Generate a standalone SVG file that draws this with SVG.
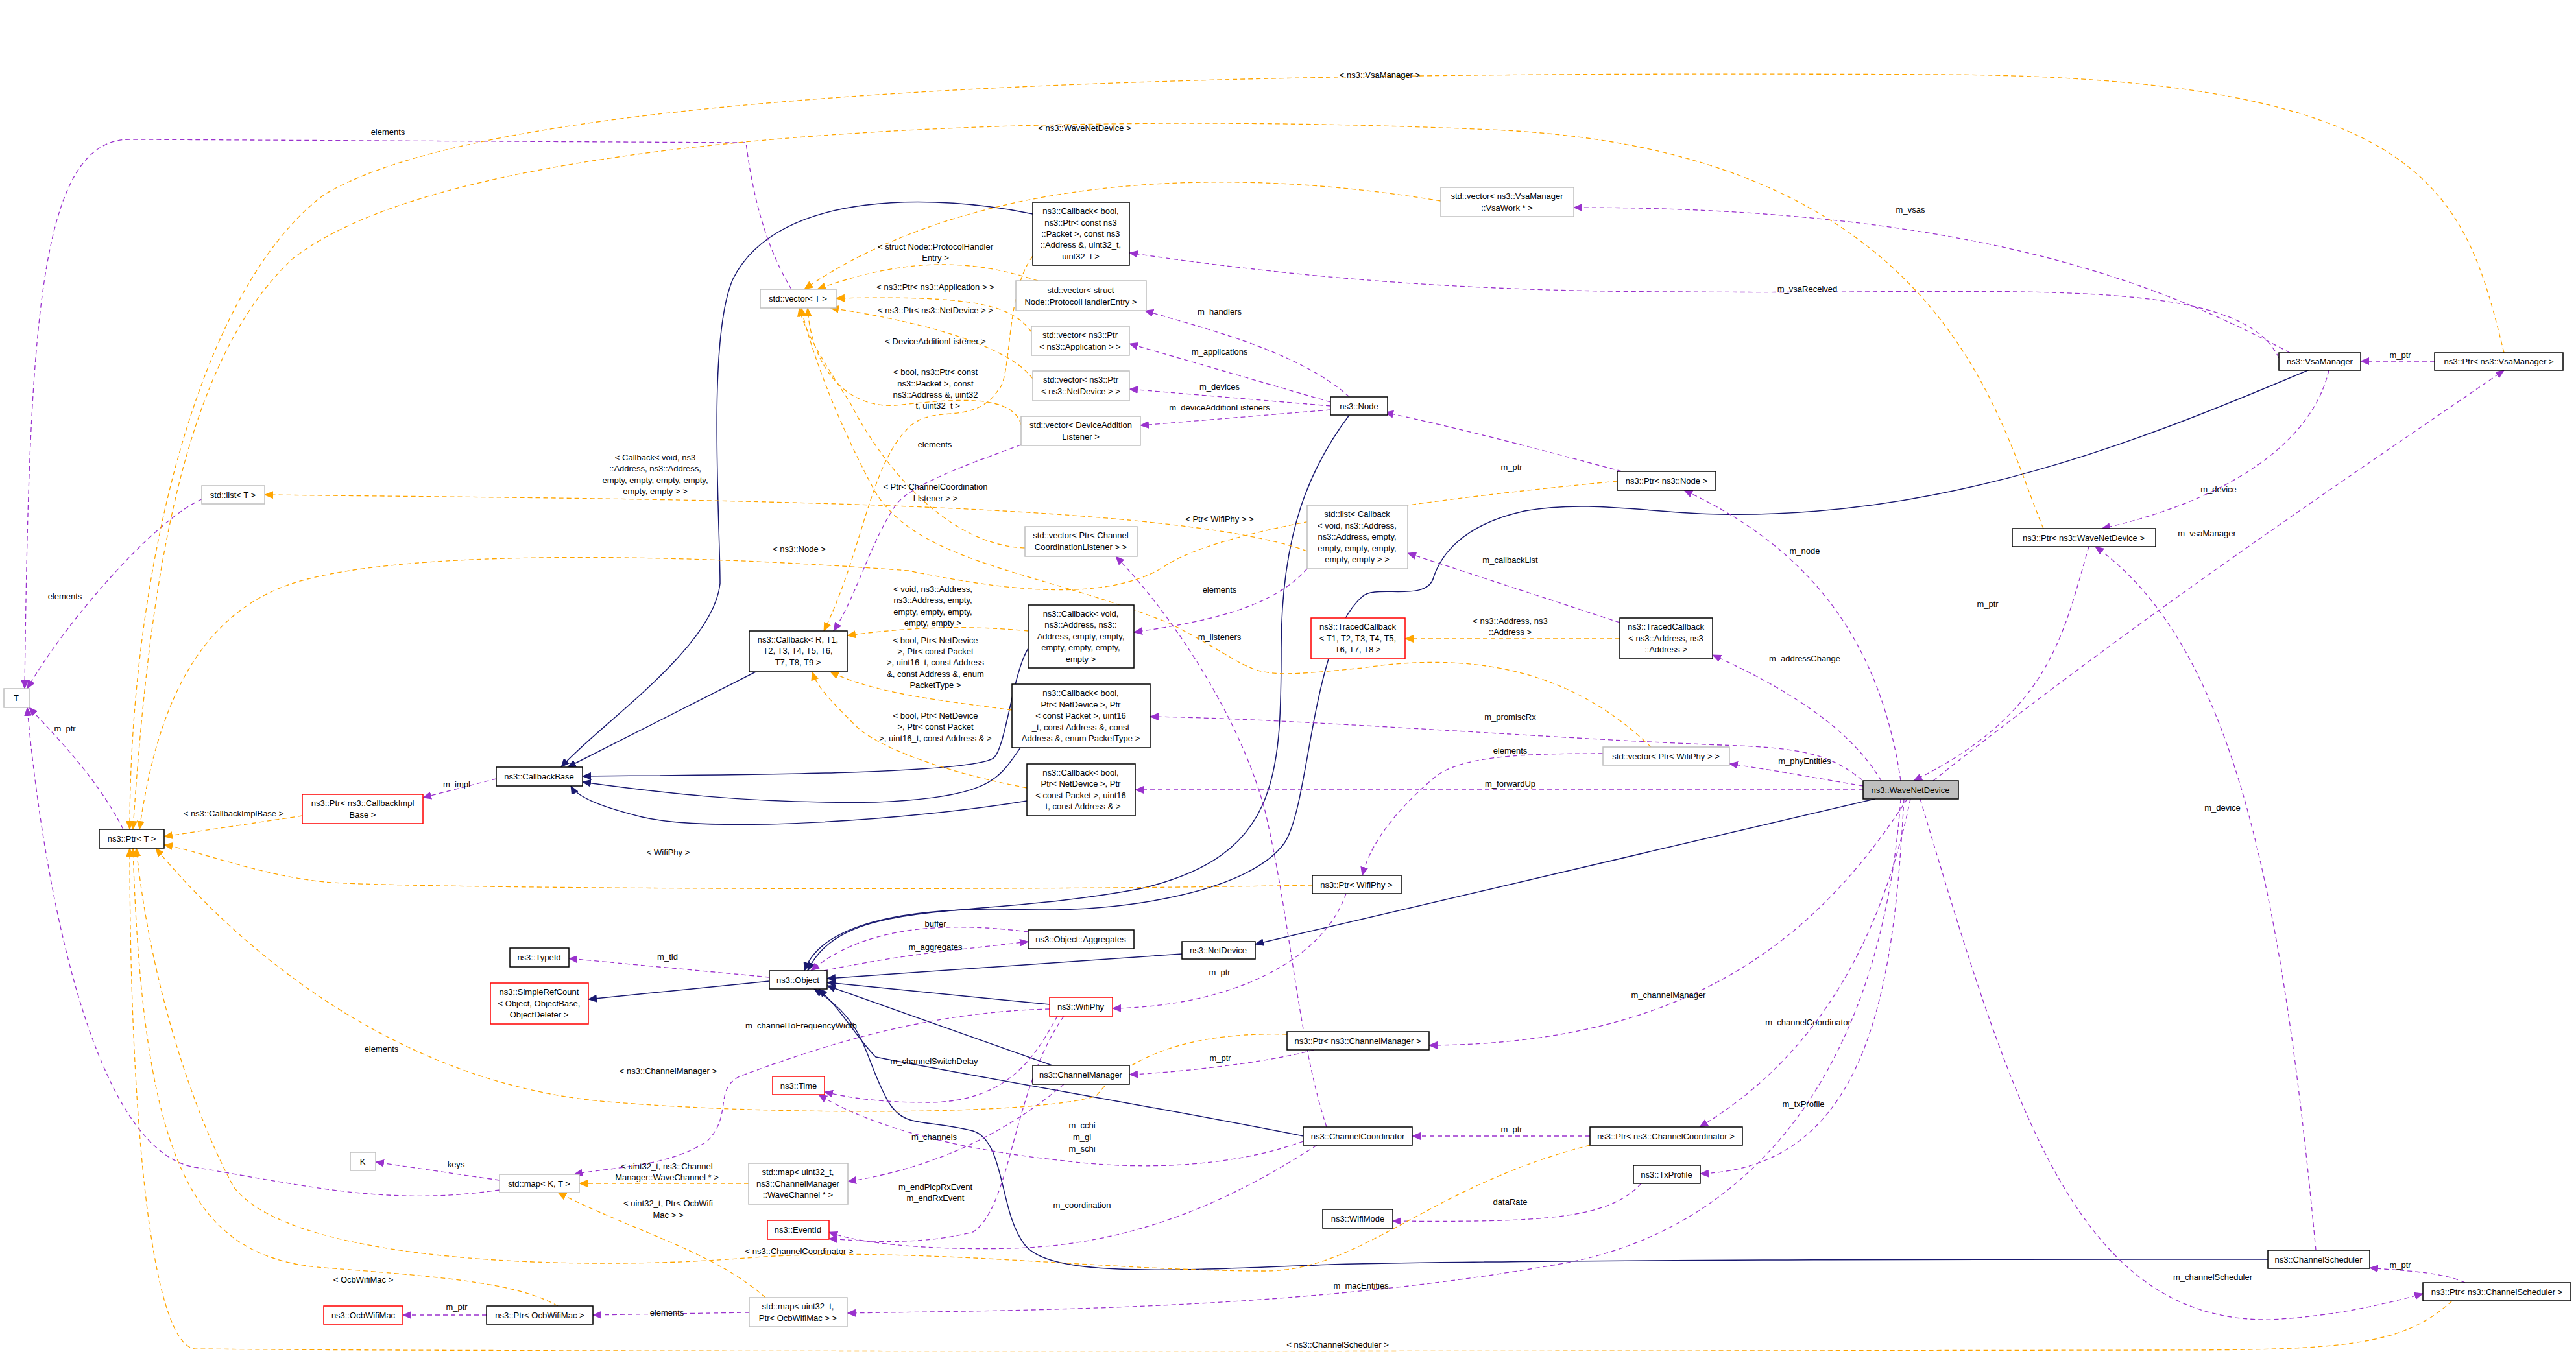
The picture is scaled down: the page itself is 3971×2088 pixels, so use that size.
<svg xmlns="http://www.w3.org/2000/svg" width="3971" height="2088" viewBox="0 0 3971 2088">
<defs>
<marker id="ab" markerWidth="14" markerHeight="12" refX="13" refY="6" orient="auto" markerUnits="userSpaceOnUse"><path d="M0,0 L14,6 L0,12 z" fill="#191970"/></marker>
<marker id="ap" markerWidth="14" markerHeight="12" refX="13" refY="6" orient="auto" markerUnits="userSpaceOnUse"><path d="M0,0 L14,6 L0,12 z" fill="#9a32cd"/></marker>
<marker id="ao" markerWidth="14" markerHeight="12" refX="13" refY="6" orient="auto" markerUnits="userSpaceOnUse"><path d="M0,0 L14,6 L0,12 z" fill="#ffa500"/></marker>
</defs>
<style>
text{font-family:"Liberation Sans",Arial,sans-serif;font-size:13px;fill:#000;text-anchor:middle}
.n rect{fill:#fff;stroke:#000;stroke-width:1.5}
.g rect{fill:#fff;stroke:#bfbfbf;stroke-width:1.5}
.r rect{fill:#fff;stroke:#ff0000;stroke-width:1.5}
.f rect{fill:#bfbfbf;stroke:#000;stroke-width:1.5}
.i{fill:none;stroke:#191970;stroke-width:1.5;marker-end:url(#ab)}
.u{fill:none;stroke:#9a32cd;stroke-width:1.3;stroke-dasharray:7,5;marker-end:url(#ap)}
.t{fill:none;stroke:#ffa500;stroke-width:1.3;stroke-dasharray:7,5;marker-end:url(#ao)}
</style>
<rect width="3971" height="2088" fill="#fff"/>
<g id="connectors">
<path class="i" d="M1592,330 C1450,300 1200,290 1130,430 C1090,520 1110,800 1110,900 C1100,1000 920,1120 865,1183"/>
<path class="i" d="M1165,1036 L875,1183"/>
<path class="i" d="M1585,1000 C1560,1040 1550,1160 1530,1170 C1480,1195 1100,1195 898,1197"/>
<path class="i" d="M1573,1153 C1540,1200 1530,1230 1350,1237 C1150,1240 1000,1220 898,1206"/>
<path class="i" d="M1583,1235 C1400,1265 1100,1285 990,1260 C930,1245 890,1230 880,1212"/>
<path class="i" d="M2080,640 C2020,720 1975,820 1975,1000 C1975,1200 1970,1320 1760,1370 C1500,1420 1300,1380 1245,1497"/>
<path class="i" d="M3560,570 C3300,680 3000,800 2650,793 C2550,792 2450,770 2350,788 C2250,810 2220,860 2210,890 C2200,930 2120,900 2100,920 C2020,990 2020,1240 1980,1300 C1930,1370 1750,1410 1550,1402 C1350,1400 1260,1440 1240,1497"/>
<path class="i" d="M2890,1232 L1935,1456"/>
<path class="i" d="M1822,1471 L1275,1509"/>
<path class="i" d="M1618,1549 L1275,1515"/>
<path class="i" d="M1622,1643 L1275,1520"/>
<path class="i" d="M2009,1752 C1800,1710 1500,1660 1350,1630 C1320,1600 1300,1560 1262,1525"/>
<path class="i" d="M3496,1942 C3000,1942 2400,1942 2050,1950 C1800,1960 1620,1970 1580,1920 C1540,1870 1550,1760 1500,1744 C1420,1725 1395,1740 1370,1700 C1330,1630 1340,1580 1255,1525"/>
<path class="i" d="M1186,1513 L907,1541"/>
<path class="u" d="M1220,446 C1180,380 1160,300 1150,220 L200,215 C60,215 45,500 38,1062"/>
<path class="u" d="M311,770 C240,800 100,960 42,1062"/>
<path class="u" d="M190,1279 C150,1200 90,1140 45,1091"/>
<path class="u" d="M770,1835 C600,1860 480,1830 300,1800 C130,1770 60,1300 42,1091"/>
<path class="u" d="M770,1820 L579,1792"/>
<path class="u" d="M765,1201 L652,1230"/>
<path class="u" d="M1186,1507 L877,1478"/>
<path class="u" d="M1585,1437 C1450,1420 1330,1430 1250,1497"/>
<path class="u" d="M1270,1497 C1400,1470 1480,1465 1585,1452"/>
<path class="u" d="M2075,1378 C2040,1480 1900,1552 1715,1555"/>
<path class="u" d="M1618,1556 C1450,1560 1300,1600 1140,1660 C1100,1680 1130,1720 1090,1760 C1030,1800 940,1800 885,1811"/>
<path class="u" d="M1630,1567 C1600,1620 1560,1700 1430,1700 C1340,1700 1300,1690 1271,1684"/>
<path class="u" d="M1640,1567 C1560,1680 1560,1860 1500,1900 C1420,1920 1340,1915 1278,1910"/>
<path class="u" d="M1640,1672 C1560,1740 1450,1800 1307,1822"/>
<path class="u" d="M2009,1760 C1900,1800 1760,1805 1640,1790 C1450,1770 1330,1730 1262,1688"/>
<path class="u" d="M2030,1766 C1900,1850 1750,1920 1560,1925 C1450,1928 1330,1920 1278,1900"/>
<path class="u" d="M2045,1738 C2000,1600 1990,1420 1950,1250 C1910,1100 1800,940 1720,858"/>
<path class="u" d="M2025,1619 C1950,1640 1800,1655 1741,1657"/>
<path class="u" d="M2451,1752 L2177,1752"/>
<path class="u" d="M2530,1825 C2480,1880 2380,1885 2147,1883"/>
<path class="u" d="M750,2028 L621,2028"/>
<path class="u" d="M1155,2024 L914,2028"/>
<path class="u" d="M2080,612 C2000,540 1850,505 1765,479"/>
<path class="u" d="M2051,620 L1741,530"/>
<path class="u" d="M2051,626 L1741,600"/>
<path class="u" d="M2051,632 L1758,656"/>
<path class="u" d="M1574,686 C1480,720 1400,750 1380,780 C1340,840 1320,920 1285,973"/>
<path class="u" d="M2015,877 C1960,940 1850,960 1748,975"/>
<path class="u" d="M2497,960 L2170,853"/>
<path class="u" d="M2930,1204 C2900,1000 2800,850 2596,756"/>
<path class="u" d="M2900,1204 C2850,1120 2750,1060 2640,1010"/>
<path class="u" d="M2880,1210 C2830,1170 2800,1155 2680,1150 C2400,1140 2000,1108 1773,1105"/>
<path class="u" d="M2872,1212 C2800,1200 2750,1190 2666,1178"/>
<path class="u" d="M2872,1218 L1750,1218"/>
<path class="u" d="M2471,1162 C2350,1162 2250,1165 2210,1200 C2140,1260 2110,1310 2100,1350"/>
<path class="u" d="M3220,843 C3180,980 3160,1100 2950,1204"/>
<path class="u" d="M2980,1204 C3300,950 3600,750 3860,571"/>
<path class="u" d="M2940,1232 C2800,1450 2600,1610 2203,1612"/>
<path class="u" d="M2945,1232 C2900,1450 2800,1630 2620,1738"/>
<path class="u" d="M2935,1232 C2920,1500 2890,1800 2621,1810"/>
<path class="u" d="M2930,1232 C2900,1650 2700,1900 2400,1950 C2000,2020 1600,2020 1306,2025"/>
<path class="u" d="M2960,1232 C3100,1700 3200,2040 3500,2035 C3600,2030 3680,2010 3735,1995"/>
<path class="u" d="M3800,1978 C3760,1960 3700,1960 3653,1955"/>
<path class="u" d="M3570,1928 C3520,1400 3450,1000 3230,843"/>
<path class="u" d="M3590,571 C3560,700 3400,780 3240,815"/>
<path class="u" d="M3530,544 C3300,420 3000,320 2426,320"/>
<path class="u" d="M3513,552 C3450,420 3100,455 2600,450 C2200,450 1950,420 1741,390"/>
<path class="u" d="M3753,557 L3639,557"/>
<path class="u" d="M2500,727 C2400,700 2250,660 2135,636"/>
<path class="t" d="M2221,310 C1800,240 1450,300 1240,446"/>
<path class="t" d="M3150,815 C3080,650 3000,230 2300,200 C1600,170 700,200 450,400 C280,560 230,900 205,1279"/>
<path class="t" d="M3860,544 C3800,300 3750,120 3000,115 C2000,110 800,120 500,300 C300,450 200,900 200,1279"/>
<path class="t" d="M1600,433 C1500,400 1400,395 1260,446"/>
<path class="t" d="M1590,512 C1560,470 1500,455 1289,460"/>
<path class="t" d="M1592,584 C1560,540 1450,500 1280,475"/>
<path class="t" d="M1574,655 C1560,600 1440,620 1380,625 C1300,630 1250,560 1245,475"/>
<path class="t" d="M1580,845 C1450,840 1350,700 1310,620 C1270,560 1240,510 1232,475"/>
<path class="t" d="M2545,1152 C2440,1050 2300,1000 2100,1030 C1900,1050 1960,1040 1800,960 C1600,880 1420,870 1350,760 C1290,650 1250,540 1235,475"/>
<path class="t" d="M1592,395 C1550,450 1560,580 1540,600 C1500,660 1440,620 1400,660 C1340,720 1330,850 1270,973"/>
<path class="t" d="M1585,973 C1500,965 1420,965 1306,980"/>
<path class="t" d="M1560,1095 C1450,1080 1350,1070 1280,1036"/>
<path class="t" d="M1583,1215 C1450,1190 1350,1150 1320,1120 C1280,1080 1260,1060 1252,1036"/>
<path class="t" d="M2015,850 C1800,770 1000,770 408,763"/>
<path class="t" d="M2497,985 L2166,985"/>
<path class="t" d="M2493,742 C2200,770 1900,810 1800,870 C1700,940 1500,900 1400,880 C1000,850 600,850 450,900 C300,950 240,1100 215,1279"/>
<path class="t" d="M2023,1365 C1500,1375 600,1370 500,1360 C400,1350 300,1310 253,1303"/>
<path class="t" d="M466,1258 L253,1290"/>
<path class="t" d="M1984,1595 C1800,1590 1720,1650 1690,1690 C1600,1720 1200,1720 950,1700 C650,1680 400,1500 240,1308"/>
<path class="t" d="M2451,1766 C2200,1830 2100,1960 1950,1960 C1700,1960 1400,1920 1150,1940 C900,1960 450,1950 360,1830 C290,1700 230,1500 210,1308"/>
<path class="t" d="M3780,2006 C3700,2080 3600,2082 3300,2082 C2200,2084 800,2085 300,2080 C230,2070 200,1700 200,1308"/>
<path class="t" d="M860,2014 C800,1980 700,1970 500,1955 C300,1940 220,1800 205,1308"/>
<path class="t" d="M1154,1825 L893,1825"/>
<path class="t" d="M1180,2001 C1100,1930 980,1900 860,1839"/>
</g>
<g id="edge-labels">
<text x="598" y="208">elements</text>
<text x="100" y="924">elements</text>
<text x="100" y="1128">m_ptr</text>
<text x="588" y="1622">elements</text>
<text x="703" y="1800">keys</text>
<text x="704" y="1214">m_impl</text>
<text x="1029" y="1480">m_tid</text>
<text x="1442" y="1429">buffer</text>
<text x="1442" y="1465">m_aggregates</text>
<text x="1880" y="1504">m_ptr</text>
<text x="1235" y="1586">m_channelToFrequencyWidth</text>
<text x="1440" y="1641">m_channelSwitchDelay</text>
<text x="1442" y="1835">m_endPlcpRxEvent</text>
<text x="1442" y="1852">m_endRxEvent</text>
<text x="1440" y="1758">m_channels</text>
<text x="1668" y="1740">m_cchi</text>
<text x="1668" y="1758">m_gi</text>
<text x="1668" y="1776">m_schi</text>
<text x="1668" y="1863">m_coordination</text>
<text x="1880" y="987">m_listeners</text>
<text x="2330" y="1746">m_ptr</text>
<text x="2328" y="1858">dataRate</text>
<text x="1881" y="1636">m_ptr</text>
<text x="2572" y="1539">m_channelManager</text>
<text x="2787" y="1581">m_channelCoordinator</text>
<text x="2780" y="1707">m_txProfile</text>
<text x="2098" y="1987">m_macEntities</text>
<text x="3411" y="1974">m_channelScheduler</text>
<text x="3700" y="1955">m_ptr</text>
<text x="3426" y="1250">m_device</text>
<text x="3420" y="759">m_device</text>
<text x="704" y="2020">m_ptr</text>
<text x="1028" y="2029">elements</text>
<text x="1880" y="485">m_handlers</text>
<text x="1880" y="547">m_applications</text>
<text x="1880" y="601">m_devices</text>
<text x="1880" y="633">m_deviceAdditionListeners</text>
<text x="1441" y="690">elements</text>
<text x="1880" y="914">elements</text>
<text x="2328" y="868">m_callbackList</text>
<text x="2782" y="854">m_node</text>
<text x="2782" y="1020">m_addressChange</text>
<text x="2328" y="1110">m_promiscRx</text>
<text x="2782" y="1178">m_phyEntities</text>
<text x="2328" y="1213">m_forwardUp</text>
<text x="2328" y="1162">elements</text>
<text x="3064" y="936">m_ptr</text>
<text x="3402" y="827">m_vsaManager</text>
<text x="2945" y="328">m_vsas</text>
<text x="2786" y="450">m_vsaReceived</text>
<text x="3700" y="552">m_ptr</text>
<text x="2330" y="725">m_ptr</text>
<text x="1672" y="322">&lt; ns3::VsaManager::</text>
<text x="1672" y="340">VsaWork * &gt;</text>
<text x="1672" y="202">&lt; ns3::WaveNetDevice &gt;</text>
<text x="2127" y="120">&lt; ns3::VsaManager &gt;</text>
<text x="1442" y="385">&lt; struct Node::ProtocolHandler</text>
<text x="1442" y="402">Entry &gt;</text>
<text x="1442" y="447">&lt; ns3::Ptr&lt; ns3::Application &gt; &gt;</text>
<text x="1442" y="483">&lt; ns3::Ptr&lt; ns3::NetDevice &gt; &gt;</text>
<text x="1442" y="531">&lt; DeviceAdditionListener &gt;</text>
<text x="1442" y="578">&lt; bool, ns3::Ptr&lt; const</text>
<text x="1442" y="596">ns3::Packet &gt;, const</text>
<text x="1442" y="613">ns3::Address &amp;, uint32</text>
<text x="1442" y="630">_t, uint32_t &gt;</text>
<text x="1442" y="755">&lt; Ptr&lt; ChannelCoordination</text>
<text x="1442" y="773">Listener &gt; &gt;</text>
<text x="1880" y="805">&lt; Ptr&lt; WifiPhy &gt; &gt;</text>
<text x="1438" y="913">&lt; void, ns3::Address,</text>
<text x="1438" y="930">ns3::Address, empty,</text>
<text x="1438" y="948">empty, empty, empty,</text>
<text x="1438" y="965">empty, empty &gt;</text>
<text x="1442" y="992">&lt; bool, Ptr&lt; NetDevice</text>
<text x="1442" y="1009">&gt;, Ptr&lt; const Packet</text>
<text x="1442" y="1026">&gt;, uint16_t, const Address</text>
<text x="1442" y="1044">&amp;, const Address &amp;, enum</text>
<text x="1442" y="1061">PacketType &gt;</text>
<text x="1442" y="1108">&lt; bool, Ptr&lt; NetDevice</text>
<text x="1442" y="1125">&gt;, Ptr&lt; const Packet</text>
<text x="1442" y="1143">&gt;, uint16_t, const Address &amp; &gt;</text>
<text x="1010" y="710">&lt; Callback&lt; void, ns3</text>
<text x="1010" y="727">::Address, ns3::Address,</text>
<text x="1010" y="745">empty, empty, empty, empty,</text>
<text x="1010" y="762">empty, empty &gt; &gt;</text>
<text x="2328" y="962">&lt; ns3::Address, ns3</text>
<text x="2328" y="979">::Address &gt;</text>
<text x="1232" y="851">&lt; ns3::Node &gt;</text>
<text x="1030" y="1319">&lt; WifiPhy &gt;</text>
<text x="360" y="1259">&lt; ns3::CallbackImplBase &gt;</text>
<text x="1030" y="1656">&lt; ns3::ChannelManager &gt;</text>
<text x="1232" y="1934">&lt; ns3::ChannelCoordinator &gt;</text>
<text x="2062" y="2078">&lt; ns3::ChannelScheduler &gt;</text>
<text x="560" y="1978">&lt; OcbWifiMac &gt;</text>
<text x="1028" y="1803">&lt; uint32_t, ns3::Channel</text>
<text x="1028" y="1820">Manager::WaveChannel * &gt;</text>
<text x="1030" y="1860">&lt; uint32_t, Ptr&lt; OcbWifi</text>
<text x="1030" y="1878">Mac &gt; &gt;</text>
</g>
<g id="n_T" class="g"><rect x="6" y="1062" width="39" height="29"/><text x="25" y="1081">T</text></g>
<g id="n_listT" class="g"><rect x="311" y="749" width="97" height="28"/><text x="359" y="768">std::list&lt; T &gt;</text></g>
<g id="n_PtrT" class="n"><rect x="153" y="1279" width="100" height="29"/><text x="203" y="1298">ns3::Ptr&lt; T &gt;</text></g>
<g id="n_PtrCIB" class="r"><rect x="466" y="1225" width="186" height="45"/><text x="559" y="1243">ns3::Ptr&lt; ns3::CallbackImpl</text><text x="559" y="1261">Base &gt;</text></g>
<g id="n_CB" class="n"><rect x="765" y="1183" width="133" height="29"/><text x="831" y="1202">ns3::CallbackBase</text></g>
<g id="n_vecT" class="g"><rect x="1172" y="446" width="117" height="29"/><text x="1230" y="465">std::vector&lt; T &gt;</text></g>
<g id="n_cbR" class="n"><rect x="1155" y="973" width="151" height="63"/><text x="1230" y="991">ns3::Callback&lt; R, T1,</text><text x="1230" y="1008">T2, T3, T4, T5, T6,</text><text x="1230" y="1026">T7, T8, T9 &gt;</text></g>
<g id="n_cbVsa" class="n"><rect x="1592" y="312" width="149" height="97"/><text x="1666" y="330">ns3::Callback&lt; bool,</text><text x="1666" y="348">ns3::Ptr&lt; const ns3</text><text x="1666" y="365">::Packet &gt;, const ns3</text><text x="1666" y="382">::Address &amp;, uint32_t,</text><text x="1666" y="400">uint32_t &gt;</text></g>
<g id="n_vecPHE" class="g"><rect x="1566" y="433" width="201" height="46"/><text x="1666" y="452">std::vector&lt; struct</text><text x="1666" y="470">Node::ProtocolHandlerEntry &gt;</text></g>
<g id="n_vecApp" class="g"><rect x="1590" y="503" width="151" height="45"/><text x="1665" y="521">std::vector&lt; ns3::Ptr</text><text x="1665" y="539">&lt; ns3::Application &gt; &gt;</text></g>
<g id="n_vecNd" class="g"><rect x="1592" y="572" width="149" height="46"/><text x="1666" y="590">std::vector&lt; ns3::Ptr</text><text x="1666" y="608">&lt; ns3::NetDevice &gt; &gt;</text></g>
<g id="n_vecDAL" class="g"><rect x="1574" y="642" width="184" height="45"/><text x="1666" y="660">std::vector&lt; DeviceAddition</text><text x="1666" y="678">Listener &gt;</text></g>
<g id="n_vecCCL" class="g"><rect x="1580" y="812" width="173" height="46"/><text x="1666" y="830">std::vector&lt; Ptr&lt; Channel</text><text x="1666" y="848">CoordinationListener &gt; &gt;</text></g>
<g id="n_cbVoid" class="n"><rect x="1585" y="933" width="163" height="97"/><text x="1666" y="951">ns3::Callback&lt; void,</text><text x="1666" y="968">ns3::Address, ns3::</text><text x="1666" y="986">Address, empty, empty,</text><text x="1666" y="1003">empty, empty, empty,</text><text x="1666" y="1021">empty &gt;</text></g>
<g id="n_cbPromisc" class="n"><rect x="1560" y="1055" width="213" height="98"/><text x="1666" y="1073">ns3::Callback&lt; bool,</text><text x="1666" y="1091">Ptr&lt; NetDevice &gt;, Ptr</text><text x="1666" y="1108">&lt; const Packet &gt;, uint16</text><text x="1666" y="1126">_t, const Address &amp;, const</text><text x="1666" y="1143">Address &amp;, enum PacketType &gt;</text></g>
<g id="n_cbFwd" class="n"><rect x="1583" y="1178" width="167" height="80"/><text x="1666" y="1196">ns3::Callback&lt; bool,</text><text x="1666" y="1213">Ptr&lt; NetDevice &gt;, Ptr</text><text x="1666" y="1231">&lt; const Packet &gt;, uint16</text><text x="1666" y="1248">_t, const Address &amp; &gt;</text></g>
<g id="n_vsaWork" class="g"><rect x="2221" y="289" width="205" height="45"/><text x="2323" y="307">std::vector&lt; ns3::VsaManager</text><text x="2323" y="325">::VsaWork * &gt;</text></g>
<g id="n_Node" class="n"><rect x="2051" y="612" width="88" height="28"/><text x="2095" y="631">ns3::Node</text></g>
<g id="n_PtrNode" class="n"><rect x="2493" y="727" width="152" height="29"/><text x="2569" y="746">ns3::Ptr&lt; ns3::Node &gt;</text></g>
<g id="n_listCb" class="g"><rect x="2015" y="779" width="155" height="98"/><text x="2092" y="797">std::list&lt; Callback</text><text x="2092" y="815">&lt; void, ns3::Address,</text><text x="2092" y="832">ns3::Address, empty,</text><text x="2092" y="850">empty, empty, empty,</text><text x="2092" y="867">empty, empty &gt; &gt;</text></g>
<g id="n_TC" class="r"><rect x="2021" y="953" width="145" height="63"/><text x="2093" y="971">ns3::TracedCallback</text><text x="2093" y="989">&lt; T1, T2, T3, T4, T5,</text><text x="2093" y="1006">T6, T7, T8 &gt;</text></g>
<g id="n_TCAddr" class="n"><rect x="2497" y="953" width="143" height="63"/><text x="2568" y="971">ns3::TracedCallback</text><text x="2568" y="989">&lt; ns3::Address, ns3</text><text x="2568" y="1006">::Address &gt;</text></g>
<g id="n_vecWifi" class="g"><rect x="2471" y="1152" width="195" height="28"/><text x="2568" y="1171">std::vector&lt; Ptr&lt; WifiPhy &gt; &gt;</text></g>
<g id="n_WND" class="f"><rect x="2872" y="1204" width="147" height="28"/><text x="2945" y="1223">ns3::WaveNetDevice</text></g>
<g id="n_VsaMgr" class="n"><rect x="3513" y="544" width="126" height="27"/><text x="3576" y="562">ns3::VsaManager</text></g>
<g id="n_PtrVsa" class="n"><rect x="3753" y="544" width="198" height="27"/><text x="3852" y="562">ns3::Ptr&lt; ns3::VsaManager &gt;</text></g>
<g id="n_PtrWND" class="n"><rect x="3102" y="815" width="221" height="28"/><text x="3212" y="834">ns3::Ptr&lt; ns3::WaveNetDevice &gt;</text></g>
<g id="n_PtrWifi" class="n"><rect x="2023" y="1350" width="137" height="28"/><text x="2091" y="1369">ns3::Ptr&lt; WifiPhy &gt;</text></g>
<g id="n_TypeId" class="n"><rect x="786" y="1462" width="91" height="29"/><text x="831" y="1481">ns3::TypeId</text></g>
<g id="n_SRC" class="r"><rect x="756" y="1516" width="151" height="63"/><text x="831" y="1534">ns3::SimpleRefCount</text><text x="831" y="1552">&lt; Object, ObjectBase,</text><text x="831" y="1569">ObjectDeleter &gt;</text></g>
<g id="n_Object" class="n"><rect x="1186" y="1497" width="89" height="28"/><text x="1230" y="1516">ns3::Object</text></g>
<g id="n_Agg" class="n"><rect x="1585" y="1434" width="163" height="29"/><text x="1666" y="1453">ns3::Object::Aggregates</text></g>
<g id="n_NetDevice" class="n"><rect x="1822" y="1452" width="113" height="27"/><text x="1878" y="1470">ns3::NetDevice</text></g>
<g id="n_WifiPhy" class="r"><rect x="1618" y="1538" width="97" height="29"/><text x="1666" y="1557">ns3::WifiPhy</text></g>
<g id="n_Time" class="r"><rect x="1191" y="1660" width="80" height="28"/><text x="1231" y="1679">ns3::Time</text></g>
<g id="n_ChMgr" class="n"><rect x="1592" y="1643" width="149" height="29"/><text x="1666" y="1662">ns3::ChannelManager</text></g>
<g id="n_PtrChMgr" class="n"><rect x="1984" y="1591" width="219" height="28"/><text x="2093" y="1610">ns3::Ptr&lt; ns3::ChannelManager &gt;</text></g>
<g id="n_ChCoord" class="n"><rect x="2009" y="1738" width="168" height="28"/><text x="2093" y="1757">ns3::ChannelCoordinator</text></g>
<g id="n_PtrChCoord" class="n"><rect x="2451" y="1738" width="235" height="28"/><text x="2568" y="1757">ns3::Ptr&lt; ns3::ChannelCoordinator &gt;</text></g>
<g id="n_TxProfile" class="n"><rect x="2518" y="1797" width="103" height="28"/><text x="2569" y="1816">ns3::TxProfile</text></g>
<g id="n_WifiMode" class="n"><rect x="2039" y="1865" width="108" height="29"/><text x="2093" y="1884">ns3::WifiMode</text></g>
<g id="n_ChSched" class="n"><rect x="3496" y="1928" width="157" height="28"/><text x="3574" y="1947">ns3::ChannelScheduler</text></g>
<g id="n_PtrChSched" class="n"><rect x="3735" y="1978" width="228" height="28"/><text x="3849" y="1997">ns3::Ptr&lt; ns3::ChannelScheduler &gt;</text></g>
<g id="n_K" class="g"><rect x="540" y="1777" width="39" height="28"/><text x="559" y="1796">K</text></g>
<g id="n_mapKT" class="g"><rect x="770" y="1811" width="123" height="28"/><text x="831" y="1830">std::map&lt; K, T &gt;</text></g>
<g id="n_mapWC" class="g"><rect x="1154" y="1794" width="153" height="63"/><text x="1230" y="1812">std::map&lt; uint32_t,</text><text x="1230" y="1830">ns3::ChannelManager</text><text x="1230" y="1847">::WaveChannel * &gt;</text></g>
<g id="n_EventId" class="r"><rect x="1183" y="1882" width="95" height="29"/><text x="1230" y="1901">ns3::EventId</text></g>
<g id="n_OcbMac" class="r"><rect x="499" y="2014" width="122" height="28"/><text x="560" y="2033">ns3::OcbWifiMac</text></g>
<g id="n_PtrOcb" class="n"><rect x="750" y="2014" width="164" height="28"/><text x="832" y="2033">ns3::Ptr&lt; OcbWifiMac &gt;</text></g>
<g id="n_mapOcb" class="g"><rect x="1155" y="2001" width="151" height="45"/><text x="1230" y="2019">std::map&lt; uint32_t,</text><text x="1230" y="2037">Ptr&lt; OcbWifiMac &gt; &gt;</text></g>
</svg>
